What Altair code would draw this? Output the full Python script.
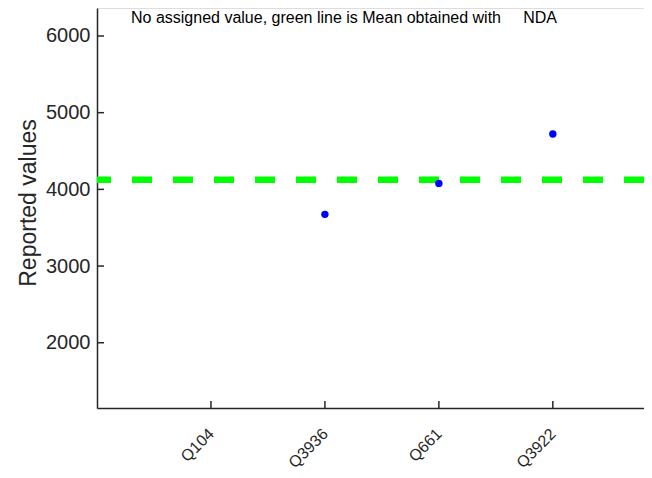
import altair as alt
import pandas as pd

labs = ["Q104", "Q3936", "Q661", "Q3922"]
lab_pos = [1, 2, 3, 4]
lab_vals = [None, 3674, 4078, 4722]
mean_val = [4125]
y_ticks = [2000, 3000, 4000, 5000, 6000]
note = ["No assigned value, green line is Mean obtained with\u00a0\u00a0\u00a0\u00a0\u00a0NDA"]

FONT = "Liberation Sans"
AX = "#262626"
W, H = 547, 400

pts = pd.DataFrame({"lab": labs, "pos": lab_pos, "val": lab_vals}).dropna()
mean_df = pd.DataFrame({"m": mean_val})
yt = pd.DataFrame({"t": y_ticks})
xt = pd.DataFrame({"pos": lab_pos})
note_df = pd.DataFrame({"txt": note})

lab_expr = "[" + ",".join("'" + s + "'" for s in labs) + "][datum.value - 1]"

xscale = alt.Scale(domain=[0, 4.8], nice=False, zero=False)
yscale = alt.Scale(domain=[1149, 6365], nice=False, zero=False)

xenc = alt.X("pos:Q", scale=xscale,
             axis=alt.Axis(title=None, values=lab_pos, labelExpr=lab_expr, labelAngle=-45,
                           labelAlign="right", labelBaseline="middle",
                           labelFontSize=16, labelFont=FONT,
                           labelColor=AX, domainColor=AX, domainWidth=1.5, tickSize=0,
                           labelPadding=23, grid=False))

pts_layer = alt.Chart(pts).mark_circle(size=55, color="#0000ff", opacity=1).encode(
    x=xenc,
    y=alt.Y("val:Q", scale=yscale,
            axis=alt.Axis(title="Reported values", titleFontSize=23, titleFont=FONT,
                          titleFontWeight="normal", titleColor=AX, titlePadding=5,
                          titleY=194.5,
                          values=y_ticks, format="d", labelFontSize=20, labelFont=FONT,
                          labelColor=AX, domainColor=AX, domainWidth=1.5, tickSize=0,
                          labelPadding=7, grid=False)),
)

mean_layer = alt.Chart(mean_df).mark_rule(color="#00ff00", strokeWidth=6.5,
                                          strokeDash=[20, 21]).encode(
    y=alt.Y("m:Q", scale=yscale)
)

ytick_layer = alt.Chart(yt).mark_rule(color=AX, strokeWidth=1.5).encode(
    y=alt.Y("t:Q", scale=yscale), x=alt.value(0), x2=alt.value(7)
)

xtick_layer = alt.Chart(xt).mark_rule(color=AX, strokeWidth=1.5).encode(
    x=alt.X("pos:Q", scale=xscale), y=alt.value(H), y2=alt.value(H - 7)
)

note_layer = alt.Chart(note_df).mark_text(align="left", baseline="middle", fontSize=16,
                                          font=FONT, color="#000000").encode(
    x=alt.value(34), y=alt.value(10), text="txt:N"
)

chart = alt.layer(mean_layer, pts_layer, ytick_layer, xtick_layer, note_layer).properties(
    width=W, height=H,
    autosize=alt.AutoSizeParams(type="none"),
    padding={"left": 89, "top": 0, "right": 0, "bottom": 62},
).configure_view(strokeWidth=0).configure(background="white")

chart.save("out.html", embed_options={"renderer": "svg", "actions": False})
